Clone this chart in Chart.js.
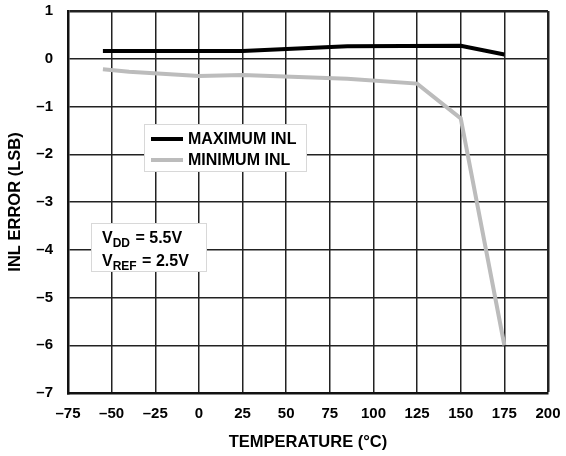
<!DOCTYPE html>
<html>
<head>
<meta charset="utf-8">
<script src="https://cdn.jsdelivr.net/npm/chart.js@4"></script>
<style>
  html, body { margin: 0; padding: 0; background: #fff; }
  #wrap { position: absolute; left: 0; top: 0; width: 566px; height: 456px; }
</style>
</head>
<body>
<div id="wrap"><canvas id="myChart" width="566" height="456"></canvas></div>
<script>
// temperature (°C) and INL error (LSB)
const maxTemps = [-55, 25, 85, 150, 175];
const maxInl = [0.16, 0.16, 0.26, 0.27, 0.09];
const minTemps = [-55, -40, 0, 25, 85, 125, 150, 175];
const minInl = [-0.22, -0.27, -0.36, -0.34, -0.42, -0.52, -1.25, -6.0];
const xTicks = [-75, -50, -25, 0, 25, 50, 75, 100, 125, 150, 175, 200];
const yTicks = [1, 0, -1, -2, -3, -4, -5, -6, -7];
const seriesNames = ['MAXIMUM INL', 'MINIMUM INL'];

const FONT = 'Liberation Sans, Arial, sans-serif';
const dash = v => String(v).replace('-', '\u2013');

// legend box and the supply note drawn inside the plot
const boxes = {
  id: 'boxes',
  afterDatasetsDraw(chart) {
    const c = chart.ctx;
    c.save();
    c.lineWidth = 1;
    c.strokeStyle = '#d8d8d8';
    c.fillStyle = '#fff';
    c.fillRect(144, 124, 163, 48);
    c.strokeRect(144.5, 124.5, 162, 47);
    const cols = ['#000', '#bcbcbc'];
    const ys = [139, 160];
    c.font = 'bold 16px ' + FONT;
    c.textBaseline = 'middle';
    for (let i = 0; i < 2; i++) {
      c.strokeStyle = cols[i];
      c.lineWidth = 4;
      c.beginPath();
      c.moveTo(151, ys[i]);
      c.lineTo(183, ys[i]);
      c.stroke();
      c.fillStyle = '#000';
      c.fillText(seriesNames[i], 188, ys[i] + 1);
    }

    c.lineWidth = 1;
    c.strokeStyle = '#d8d8d8';
    c.fillStyle = '#fff';
    c.fillRect(91, 223, 116, 49);
    c.strokeRect(91.5, 223.5, 115, 48);
    c.fillStyle = '#000';
    c.textBaseline = 'alphabetic';
    const note = (x, y, sub, rest) => {
      c.font = 'bold 16px ' + FONT;
      c.fillText('V', x, y);
      let w = c.measureText('V').width;
      c.font = 'bold 12px ' + FONT;
      c.fillText(sub, x + w, y + 4);
      w += c.measureText(sub).width;
      c.font = 'bold 16px ' + FONT;
      c.fillText(rest, x + w + 1, y);
    };
    note(102, 243, 'DD', ' = 5.5V');
    note(102, 266, 'REF', ' = 2.5V');
    c.restore();
  }
};

// outer frame lines a bit heavier than the inner grid
const edgeWidth = (edge) => (c) => (c.tick && c.tick.value === edge ? 2.5 : 1.5);

const ctx = document.getElementById('myChart');
const chart = new Chart(ctx, {
  type: 'line',
  data: {
    datasets: [{
      label: seriesNames[0],
      data: maxTemps.map((t, i) => ({ x: t, y: maxInl[i] })),
      borderColor: '#000',
      borderWidth: 4,
      pointRadius: 0,
      tension: 0
    }, {
      label: seriesNames[1],
      data: minTemps.map((t, i) => ({ x: t, y: minInl[i] })),
      borderColor: '#bcbcbc',
      borderWidth: 4,
      pointRadius: 0,
      tension: 0
    }]
  },
  options: {
    responsive: false,
    animation: false,
    layout: { padding: { top: 11, right: 18, left: 0, bottom: 0 } },
    plugins: { legend: { display: false }, tooltip: { enabled: false } },
    scales: {
      x: {
        type: 'linear',
        min: -75, max: 200,
        afterBuildTicks: s => { s.ticks = xTicks.map(v => ({ value: v })); },
        afterFit: s => { s.height = 63; s.paddingLeft = 0; s.paddingRight = 0; },
        grid: { color: '#222', lineWidth: edgeWidth(200), drawTicks: false },
        border: { color: '#111', width: 2.5 },
        ticks: {
          padding: 12,
          color: '#000',
          font: { family: FONT, size: 15, weight: 'bold' },
          callback: v => dash(v)
        },
        title: {
          display: true,
          text: 'TEMPERATURE (°C)',
          color: '#000',
          font: { family: FONT, size: 16.5, weight: 'bold' },
          padding: { top: 6 }
        }
      },
      y: {
        min: -7, max: 1,
        afterBuildTicks: s => { s.ticks = yTicks.map(v => ({ value: v })); },
        afterFit: s => { s.width = 68; s.paddingTop = 0; s.paddingBottom = 0; },
        grid: { color: '#222', lineWidth: edgeWidth(1), drawTicks: false },
        border: { color: '#111', width: 2.5 },
        ticks: {
          padding: 15,
          color: '#000',
          font: { family: FONT, size: 15, weight: 'bold' },
          callback: v => dash(v)
        },
        title: {
          display: true,
          text: 'INL ERROR (LSB)',
          color: '#000',
          font: { family: FONT, size: 16.5, weight: 'bold' },
          padding: { top: 6, bottom: 0 }
        }
      }
    }
  },
  plugins: [boxes]
});
</script>
</body>
</html>
